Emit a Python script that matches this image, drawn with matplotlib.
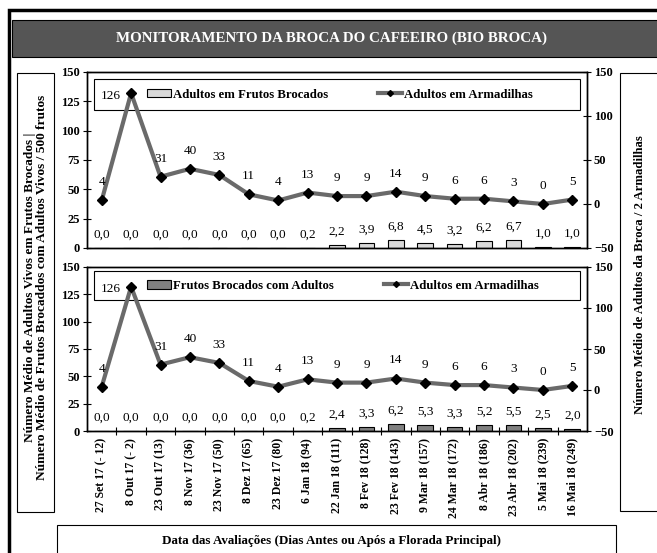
import matplotlib
matplotlib.use("Agg")
import matplotlib.pyplot as plt
from matplotlib.patches import Rectangle, Patch
from matplotlib.lines import Line2D

plt.rcParams['font.family'] = ['Liberation Serif', 'DejaVu Serif']

# Datas das avaliacoes (dias antes/apos a florada principal)
dates = [
    "27 Set 17 (- 12)", "8 Out 17 (- 2)", "23 Out 17 (13)", "8 Nov 17 (36)",
    "23 Nov 17 (50)", "8 Dez 17 (65)", "23 Dez 17 (80)", "6 Jan 18 (94)",
    "22 Jan 18 (111)", "8 Fev 18 (128)", "23 Fev 18 (143)", "9 Mar 18 (157)",
    "24 Mar 18 (172)", "8 Abr 18 (186)", "23 Abr 18 (202)", "5 Mai 18 (239)",
    "16 Mai 18 (249)",
]

# adultos capturados nas armadilhas (eixo direito)
trap_adults = [4, 126, 31, 40, 33, 11, 4, 13, 9, 9, 14, 9, 6, 6, 3, 0, 5]

# adultos vivos em frutos brocados / 500 frutos (painel de cima)
adults_in_fruits = [0.0, 0.0, 0.0, 0.0, 0.0, 0.0, 0.0, 0.2, 2.2, 3.9,
                    6.8, 4.5, 3.2, 6.2, 6.7, 1.0, 1.0]

# frutos brocados com adultos vivos / 500 frutos (painel de baixo)
fruits_with_adults = [0.0, 0.0, 0.0, 0.0, 0.0, 0.0, 0.0, 0.2, 2.4, 3.3,
                      6.2, 5.3, 3.3, 5.2, 5.5, 2.5, 2.0]

W, H = 657, 553
LINE_COLOR = '#6a6a6a'

fig = plt.figure(figsize=(W / 100, H / 100), dpi=100)


def fx(px):
    return px / W


def fy(py):
    return 1 - py / H


def fig_box(x0, y0, x1, y1, **kw):
    fig.add_artist(Rectangle((fx(x0), fy(y1)), fx(x1) - fx(x0), fy(y0) - fy(y1),
                             transform=fig.transFigure, **kw))


def fmt(v):
    return f"{v:.1f}".replace('.', ',')


# moldura externa e faixa do titulo
fig_box(9, 10, 720, 620, fill=False, edgecolor='black', linewidth=2.5)
fig_box(12, 20, 720, 57, facecolor='#555555', edgecolor='black', linewidth=0.8)
fig.text(fx(331), fy(38.5), "MONITORAMENTO DA BROCA DO CAFEEIRO (BIO BROCA)",
         color='white', fontweight='bold', fontsize=10.8, ha='center', va='center')

# caixas dos titulos dos eixos
fig_box(17, 73, 54, 512, facecolor='white', edgecolor='black', linewidth=0.8)
fig.text(fx(36), fy(287),
         "Número Médio de Adultos Vivos em Frutos Brocados |\n"
         "Número Médio de Frutos Brocaddos com Adultos Vivos / 500 frutos",
         rotation=90, ha='center', va='center', fontweight='bold', fontsize=9.6,
         linespacing=1.0)
fig_box(620, 73, 720, 511, facecolor='white', edgecolor='black', linewidth=0.8)
fig.text(fx(640), fy(275), "Número Médio de Adultos da Broca / 2 Armadilhas",
         rotation=90, ha='center', va='center', fontweight='bold', fontsize=9.2)
fig_box(57, 525, 616, 620, facecolor='white', edgecolor='black', linewidth=0.8)
fig.text(fx(331), fy(541),
         "Data das Avaliações (Dias Antes ou Após a Florada Principal)",
         ha='center', va='center', fontweight='bold', fontsize=9.4)


def draw_panel(y_top, y_bottom, bars, bar_color, bar_name, legend_y, show_dates):
    ax = fig.add_axes([fx(87), fy(y_bottom), fx(587) - fx(87), fy(y_top) - fy(y_bottom)])
    x = list(range(len(dates)))

    ax.bar(x, bars, width=0.53, color=bar_color, edgecolor='black', linewidth=0.8)
    for i, v in enumerate(bars):
        ax.annotate(fmt(v), (i, v), xytext=(0, 9.7), textcoords='offset points',
                    ha='center', va='center', fontsize=9.5)
    ax.set_xlim(-0.5, len(dates) - 0.5)
    ax.set_ylim(0, 150)
    ax.set_yticks(range(0, 151, 25))
    ax.tick_params(axis='y', direction='inout', length=6, width=0.8, labelsize=9, pad=2)
    for lbl in ax.get_yticklabels():
        lbl.set_fontweight('bold')

    if show_dates:
        ax.set_xticks(x)
        ax.set_xticklabels(dates, rotation=90, fontweight='bold', fontsize=8.5)
        ax.set_xticks([i + 0.5 for i in x[:-1]], minor=True)
        ax.tick_params(axis='x', which='major', length=0, pad=5)
        ax.tick_params(axis='x', which='minor', direction='inout', length=6, width=0.8)
    else:
        ax.set_xticks([])

    ax2 = ax.twinx()
    ax2.plot(x, trap_adults, color=LINE_COLOR, linewidth=3, marker='D', markersize=5.5,
             markerfacecolor='black', markeredgecolor='black')
    top = max(trap_adults)
    for i, v in enumerate(trap_adults):
        if v == top:
            ax2.annotate(str(v), (i, v), xytext=(-7.5, -2), textcoords='offset points',
                         ha='right', va='center', fontsize=9.5)
        else:
            ax2.annotate(str(v), (i, v), xytext=(0, 13), textcoords='offset points',
                         ha='center', va='center', fontsize=9.5)
    ax2.set_ylim(-50, 150)
    ax2.set_yticks(range(-50, 151, 50))
    ax2.tick_params(axis='y', direction='inout', length=6, width=0.8, labelsize=9, pad=2)
    for lbl in ax2.get_yticklabels():
        lbl.set_fontweight('bold')

    for a in (ax, ax2):
        for s in a.spines.values():
            s.set_linewidth(1.0)

    # caixa da legenda
    ax2.add_patch(Rectangle((0.014, legend_y - 0.088), 0.972, 0.176,
                            transform=ax2.transAxes, fill=False,
                            edgecolor='black', linewidth=0.8))
    handles = [
        Patch(facecolor=bar_color, edgecolor='black', linewidth=0.8),
        Line2D([], [], color=LINE_COLOR, linewidth=3, marker='D', markersize=3,
               markerfacecolor='black', markeredgecolor='black'),
    ]
    ax2.legend(handles, [bar_name, 'Adultos em Armadilhas'], ncol=2,
               loc='center left', bbox_to_anchor=(0.12, legend_y), frameon=False,
               borderpad=0, borderaxespad=0, handlelength=1.9, handleheight=0.65,
               handletextpad=0.15, columnspacing=3.9,
               prop={'weight': 'bold', 'size': 9.2})
    return ax, ax2


draw_panel(72, 248, adults_in_fruits, '#d9d9d9', 'Adultos em Frutos Brocados', 0.872, False)
draw_panel(267, 431, fruits_with_adults, '#808080', 'Frutos Brocados com Adultos', 0.885, True)

fig.savefig('out.png', dpi=100)
